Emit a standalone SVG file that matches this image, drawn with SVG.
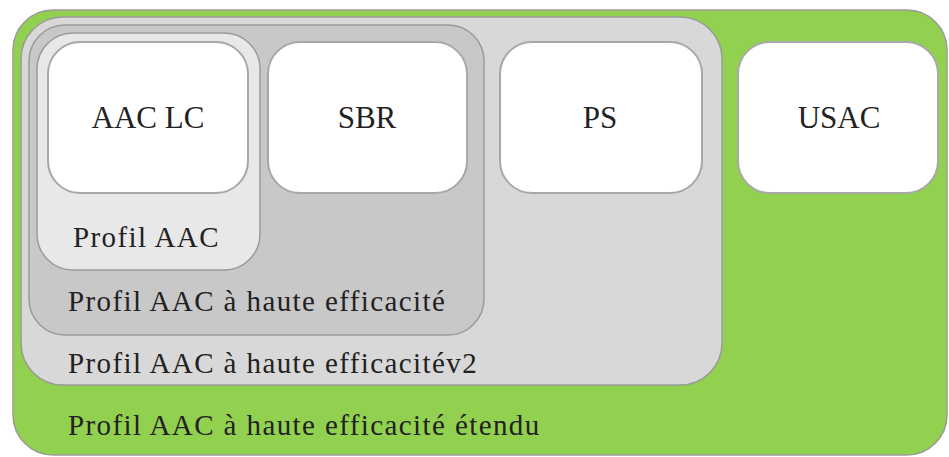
<svg xmlns="http://www.w3.org/2000/svg" width="949" height="457" viewBox="0 0 949 457">
  <style>
    text { font-family: 'Liberation Serif', 'DejaVu Serif', serif; fill: #222222; }
    .top { font-size: 31px; text-anchor: middle; }
    .bot { font-size: 29px; letter-spacing: 1.4px; }
    .leaf { fill: #ffffff; stroke: #a8a8a8; stroke-width: 2; }
    .cont { stroke: #9a9a9a; stroke-width: 1.5; }
  </style>
  <rect x="0" y="0" width="949" height="457" fill="#ffffff"/>
  <g id="profil-hev2-etendu">
    <rect class="cont" x="13" y="10" width="934" height="445" rx="40" ry="40" fill="#92d050"/>
    <text class="bot" font-family="Liberation Serif, serif" x="68" y="435">Profil AAC à haute efficacité étendu</text>
  </g>
  <g id="profil-hev2">
    <rect class="cont" x="21" y="17" width="701" height="368" rx="42" ry="42" fill="#d8d8d8"/>
    <text class="bot" font-family="Liberation Serif, serif" x="68" y="373">Profil AAC à haute efficacitév2</text>
  </g>
  <g id="profil-he">
    <rect class="cont" x="29" y="25" width="455" height="310" rx="36" ry="36" fill="#c8c8c8"/>
    <text class="bot" font-family="Liberation Serif, serif" x="68" y="311">Profil AAC à haute efficacité</text>
  </g>
  <g id="profil-aac">
    <rect class="cont" x="37" y="33" width="223" height="237" rx="36" ry="36" fill="#e8e8e8"/>
    <text class="bot" font-family="Liberation Serif, serif" x="73" y="247">Profil AAC</text>
  </g>
  <g id="aac-lc">
    <rect class="leaf" x="48" y="42" width="200" height="151" rx="32" ry="32"/>
    <text class="top" font-family="Liberation Serif, serif" x="148" y="128">AAC LC</text>
  </g>
  <g id="sbr">
    <rect class="leaf" x="268" y="42" width="199" height="151" rx="32" ry="32"/>
    <text class="top" font-family="Liberation Serif, serif" x="367" y="128">SBR</text>
  </g>
  <g id="ps">
    <rect class="leaf" x="500" y="42" width="202" height="151" rx="32" ry="32"/>
    <text class="top" font-family="Liberation Serif, serif" x="600" y="128">PS</text>
  </g>
  <g id="usac">
    <rect class="leaf" x="738" y="42" width="200" height="151" rx="32" ry="32"/>
    <text class="top" font-family="Liberation Serif, serif" x="839" y="128">USAC</text>
  </g>
</svg>
